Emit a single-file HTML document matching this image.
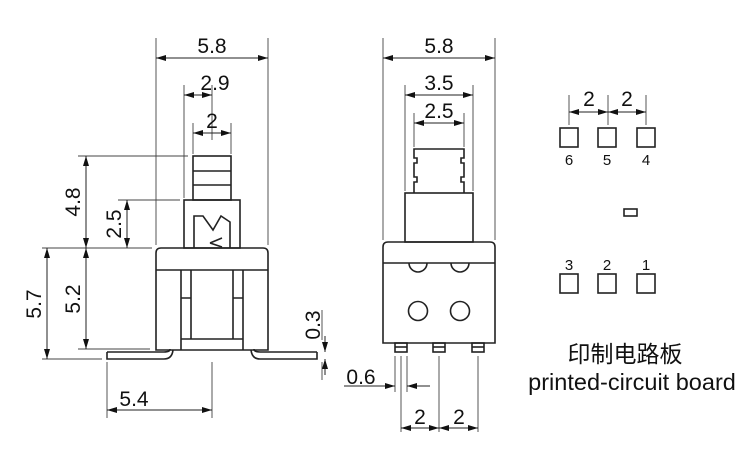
<!DOCTYPE html>
<html><head><meta charset="utf-8"><style>body{margin:0;background:#fff}svg{display:block}text{font-family:"Liberation Sans","Noto Sans CJK SC",sans-serif;fill:#111}</style></head><body>
<svg width="750" height="460" viewBox="0 0 750 460" xmlns="http://www.w3.org/2000/svg">
<defs><marker id="a" viewBox="0 0 10 6" refX="10" refY="3" markerWidth="10" markerHeight="6" orient="auto-start-reverse" markerUnits="userSpaceOnUse"><path d="M0,0L10,3L0,6z" fill="#111"/></marker></defs>
<g stroke="#222" stroke-width="1.6" fill="none">
<rect x="193" y="156" width="38" height="44"/><line x1="193" y1="171" x2="231" y2="171"/><line x1="193" y1="185" x2="231" y2="185"/>
<rect x="184" y="200" width="56" height="48"/>
<path d="M194,248V216h9l10,14l8,-14l9,6v26"/><path d="M210,243l12,-5M210,243l12,4"/>
<path d="M156,350V253q0,-5 5,-5h102q5,0 5,5v97z"/><line x1="156" y1="270" x2="268" y2="270"/>
<path d="M181,350V270M191,339V270M233,339V270M243,350V270M181,339h62M181,298h10M233,298h10"/>
<path d="M107,352h57q6,0 6,-3M107,352v7h57q8,0 9,-9"/>
<path d="M317,352h-57q-6,0 -6,-3M317,352v7h-57q-8,0 -9,-9"/>
<path d="M414,193V182h3v-5h-3v-14h3v-5h-3V149h50v9h-3v5h3v14h-3v5h3v11"/>
<rect x="405" y="193" width="68" height="49"/>
<path d="M383,343V247q0,-5 5,-5h102q5,0 5,5v96z"/><line x1="383" y1="263" x2="495" y2="263"/>
<path d="M409,263a9,9 0 0 0 18,0M451,263a9,9 0 0 0 18,0"/>
<circle cx="418" cy="311" r="9.5"/><circle cx="460" cy="311" r="9.5"/>
<rect x="395" y="343" width="12" height="9"/><rect x="433" y="343" width="12" height="9"/><rect x="472" y="343" width="12" height="9"/>
<line x1="395" y1="347" x2="407" y2="347"/><line x1="433" y1="347" x2="445" y2="347"/><line x1="472" y1="347" x2="484" y2="347"/>
<rect x="560" y="128" width="18" height="19"/><rect x="598" y="128" width="18" height="19"/><rect x="637" y="128" width="18" height="19"/>
<rect x="560" y="274" width="18" height="19"/><rect x="598" y="274" width="18" height="19"/><rect x="637" y="274" width="18" height="19"/>
<rect x="624" y="209" width="13" height="7"/>
</g>
<g stroke="#444" stroke-width="0.9" fill="none">
<path d="M156,245V38M268,245V38M184,198V85M212,140V85M193,154V123M231,154V123"/>
<path d="M78,156H188M118,200H180M42,248H152M78,349H150M42,359H102M107,362V418M212,362V418M322,340V310M322,362V380"/>
<path d="M383,240V38M495,240V38M405,191V85M473,191V85M414,147V113M464,147V113"/>
<path d="M395,356V392M407,356V392M401,356V432M439,356V432M478,356V432"/>
<path d="M569,125V95M608,125V95M646,125V95"/>
</g>
<g stroke="#222" stroke-width="1" fill="none">
<line x1="156" y1="58" x2="268" y2="58" marker-start="url(#a)" marker-end="url(#a)"/>
<line x1="184" y1="95" x2="212" y2="95" marker-start="url(#a)" marker-end="url(#a)"/>
<line x1="193" y1="133" x2="231" y2="133" marker-start="url(#a)" marker-end="url(#a)"/>
<line x1="86" y1="156" x2="86" y2="248" marker-start="url(#a)" marker-end="url(#a)"/>
<line x1="86" y1="248" x2="86" y2="349" marker-start="url(#a)" marker-end="url(#a)"/>
<line x1="47" y1="248" x2="47" y2="359" marker-start="url(#a)" marker-end="url(#a)"/>
<line x1="127" y1="200" x2="127" y2="248" marker-start="url(#a)" marker-end="url(#a)"/>
<line x1="325" y1="336" x2="325" y2="352" marker-end="url(#a)"/>
<line x1="325" y1="375" x2="325" y2="359" marker-end="url(#a)"/>
<line x1="107" y1="410" x2="212" y2="410" marker-start="url(#a)" marker-end="url(#a)"/>
<line x1="383" y1="58" x2="495" y2="58" marker-start="url(#a)" marker-end="url(#a)"/>
<line x1="405" y1="95" x2="473" y2="95" marker-start="url(#a)" marker-end="url(#a)"/>
<line x1="414" y1="123" x2="464" y2="123" marker-start="url(#a)" marker-end="url(#a)"/>
<line x1="344" y1="386" x2="395" y2="386" marker-end="url(#a)"/>
<line x1="430" y1="386" x2="407" y2="386" marker-end="url(#a)"/>
<line x1="401" y1="428" x2="439" y2="428" marker-start="url(#a)" marker-end="url(#a)"/>
<line x1="439" y1="428" x2="478" y2="428" marker-start="url(#a)" marker-end="url(#a)"/>
<line x1="569" y1="112" x2="608" y2="112" marker-start="url(#a)" marker-end="url(#a)"/>
<line x1="608" y1="112" x2="646" y2="112" marker-start="url(#a)" marker-end="url(#a)"/>
</g>
<g font-size="21" text-anchor="middle">
<text x="212" y="53">5.8</text><text x="215" y="90">2.9</text><text x="212" y="128">2</text>
<text x="439" y="53">5.8</text><text x="439" y="90">3.5</text><text x="439" y="118">2.5</text>
<text x="134" y="406">5.4</text>
<text x="361" y="384">0.6</text>
<text x="420" y="424">2</text><text x="459" y="424">2</text>
<text x="589" y="106">2</text><text x="627" y="106">2</text>
<text transform="translate(80,202) rotate(-90)">4.8</text>
<text transform="translate(80,299) rotate(-90)">5.2</text>
<text transform="translate(41,304) rotate(-90)">5.7</text>
<text transform="translate(121,224) rotate(-90)">2.5</text>
<text transform="translate(320,325) rotate(-90)">0.3</text>
</g>
<g font-size="15" text-anchor="middle">
<text x="569" y="165">6</text><text x="607" y="165">5</text><text x="646" y="165">4</text>
<text x="569" y="270">3</text><text x="607" y="270">2</text><text x="646" y="270">1</text>
</g>
<text x="625" y="362" font-size="23" text-anchor="middle">印制电路板</text>
<text x="632" y="390" font-size="23.5" text-anchor="middle">printed-circuit board</text>
</svg>
</body></html>
